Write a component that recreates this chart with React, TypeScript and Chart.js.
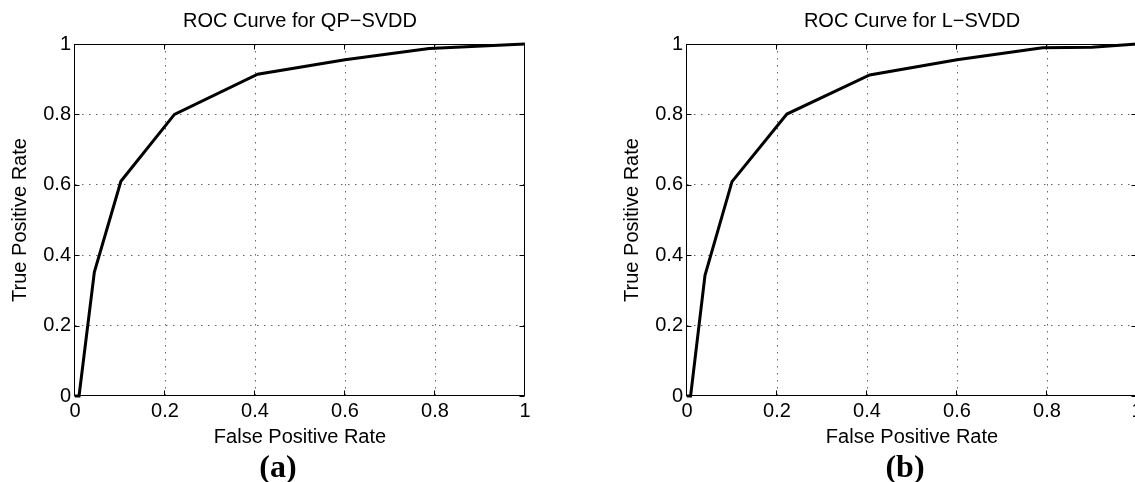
import React, { useEffect, useRef } from 'react';
import { Chart, registerables } from 'chart.js';

Chart.register(...registerables);

// ---- data ----
const qpFpr = [0, 0.009, 0.043, 0.102, 0.221, 0.406, 0.6, 0.787, 1];
const qpTpr = [0, 0, 0.352, 0.61, 0.8, 0.914, 0.955, 0.987, 1];
const lFpr = [0, 0.008, 0.04, 0.1, 0.222, 0.406, 0.6, 0.79, 0.9, 1];
const lTpr = [0, 0, 0.343, 0.609, 0.801, 0.912, 0.955, 0.989, 0.991, 1];
const tickValues = [0, 0.2, 0.4, 0.6, 0.8, 1];
const tickLabels = ['0', '0.2', '0.4', '0.6', '0.8', '1'];
const chartTitles = ['ROC Curve for QP\u2212SVDD', 'ROC Curve for L\u2212SVDD'];
const captions = ['(a)', '(b)'];
const xTitle = 'False Positive Rate';
const yTitle = 'True Positive Rate';

const FONT = '"Liberation Sans", Arial, Helvetica, sans-serif';

const framePlugin = {
  id: 'frameTicks',
  afterDraw(chart: any) {
    const { ctx, chartArea: a, scales } = chart;
    ctx.save();
    ctx.strokeStyle = '#000';
    ctx.lineWidth = 1;
    ctx.setLineDash([]);
    const L = Math.round(a.left) - 0.5;
    const R = Math.round(a.right) - 0.5;
    const T = Math.round(a.top) + 0.5;
    const B = Math.round(a.bottom) - 0.5;
    ctx.strokeRect(L, T, R - L, B - T);
    const len = 5;
    ctx.beginPath();
    tickValues.forEach((v) => {
      const x = Math.round(scales.x.getPixelForValue(v)) - 0.5;
      ctx.moveTo(x, B);
      ctx.lineTo(x, B - len);
      ctx.moveTo(x, T);
      ctx.lineTo(x, T + len);
      const y = Math.round(scales.y.getPixelForValue(v)) + 0.5;
      ctx.moveTo(L, y);
      ctx.lineTo(L + len, y);
      ctx.moveTo(R, y);
      ctx.lineTo(R - len, y);
    });
    ctx.stroke();
    ctx.restore();
  },
};

const gridColor = (c: any) =>
  c.tick && (c.tick.value === 0 || c.tick.value === 1) ? 'rgba(0,0,0,0)' : 'rgba(0,0,0,0.6)';

const setTicks = (scale: any) => {
  scale.ticks = tickValues.map((v) => ({ value: v }));
};
const labelFor = (v: any) => tickLabels[tickValues.indexOf(Number(v))] ?? '';

function RocChart({ fpr, tpr, title, left }: { fpr: number[]; tpr: number[]; title: string; left: number }) {
  const ref = useRef<HTMLCanvasElement>(null);
  useEffect(() => {
    const chart = new Chart(ref.current!, {
      type: 'line',
      data: {
        datasets: [
          {
            data: fpr.map((x, i) => ({ x, y: tpr[i] })),
            borderColor: '#000',
            borderWidth: 3,
            pointRadius: 0,
            tension: 0,
            fill: false,
            clip: false as any,
          },
        ],
      },
      options: {
        animation: false,
        responsive: false,
        devicePixelRatio: 1,
        layout: { padding: 0 },
        plugins: {
          legend: { display: false },
          tooltip: { enabled: false },
          title: {
            display: true,
            text: title,
            color: '#000',
            font: { family: FONT, size: 20, weight: 'normal' as any, lineHeight: 1.2 },
            padding: { top: 9, bottom: 11 },
          },
        },
        scales: {
          x: {
            type: 'linear',
            min: 0,
            max: 1,
            afterBuildTicks: setTicks,
            afterFit: (s: any) => {
              s.height = 86;
            },
            ticks: {
              callback: labelFor,
              color: '#000',
              font: { family: FONT, size: 20 },
              padding: 3,
              maxRotation: 0,
              autoSkip: false,
            },
            grid: { color: gridColor, lineWidth: 1, drawTicks: false },
            border: { display: false, dash: [1.5, 5.5] },
            title: {
              display: true,
              text: xTitle,
              color: '#000',
              font: { family: FONT, size: 20, lineHeight: 1.2 },
              padding: { top: 0, bottom: 33 },
            },
          },
          y: {
            type: 'linear',
            min: 0,
            max: 1,
            afterBuildTicks: setTicks,
            afterFit: (s: any) => {
              s.width = 75;
            },
            ticks: {
              callback: labelFor,
              color: '#000',
              font: { family: FONT, size: 20 },
              padding: 4,
              autoSkip: false,
            },
            grid: { color: gridColor, lineWidth: 1, drawTicks: false },
            border: { display: false, dash: [1.5, 5.5] },
            title: {
              display: true,
              text: yTitle,
              color: '#000',
              font: { family: FONT, size: 20, lineHeight: 1.2 },
              padding: { top: 8.5, bottom: 0 },
            },
          },
          y2: {
            type: 'linear',
            axis: 'y',
            position: 'right',
            min: 0,
            max: 1,
            afterFit: (s: any) => {
              s.width = 75;
            },
            ticks: { display: false },
            grid: { display: false, drawTicks: false },
            border: { display: false },
          },
        } as any,
      },
      plugins: [framePlugin],
    });
    return () => chart.destroy();
  }, []);
  return (
    <canvas
      ref={ref}
      width={600}
      height={482}
      style={{ position: 'absolute', left, top: 0, width: 600, height: 482 }}
    />
  );
}

const captionStyle = (center: number): React.CSSProperties => ({
  position: 'absolute',
  left: center - 50,
  width: 100,
  top: 450,
  textAlign: 'center',
  fontFamily: '"Liberation Serif", "Times New Roman", Times, serif',
  fontWeight: 'bold',
  fontSize: 32,
  lineHeight: '32px',
  color: '#000',
});

export default function App() {
  return (
    <div
      style={{
        position: 'fixed',
        left: 0,
        top: 0,
        width: 1135,
        height: 482,
        overflow: 'hidden',
        background: '#fff',
      }}
    >
      <RocChart fpr={qpFpr} tpr={qpTpr} title={chartTitles[0]} left={0} />
      <RocChart fpr={lFpr} tpr={lTpr} title={chartTitles[1]} left={612} />
      <div style={captionStyle(278)}>{captions[0]}</div>
      <div style={captionStyle(905)}>{captions[1]}</div>
    </div>
  );
}
